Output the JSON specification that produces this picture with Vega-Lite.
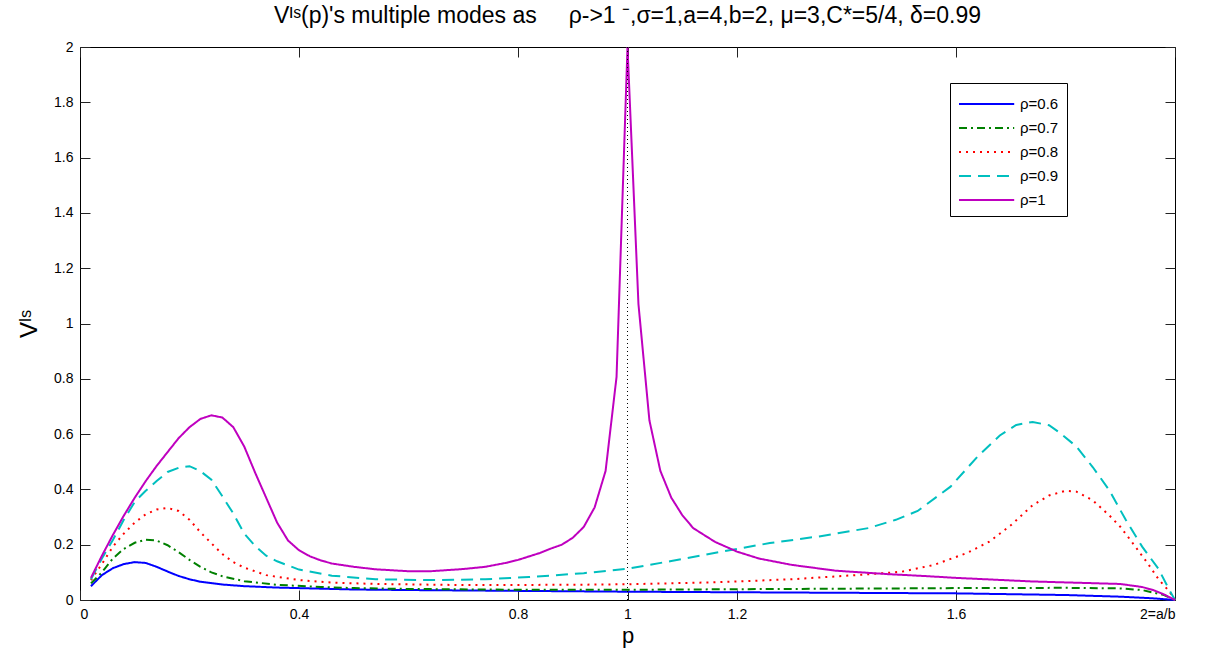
{
  "$schema": "https://vega.github.io/schema/vega-lite/v6.json",
  "width": 1095,
  "height": 553,
  "autosize": {"type": "none"},
  "padding": {"left": 80, "top": 47, "right": 42, "bottom": 56},
  "background": "white",
  "config": {
    "view": {"stroke": "black", "strokeWidth": 1},
    "font": "Liberation Sans",
    "axis": {"grid": false, "domain": false, "ticks": true, "tickColor": "#222222", "tickWidth": 1, "tickOpacity": 1, "zindex": 1, "labelColor": "black", "titleColor": "black", "labelFont": "Liberation Sans", "titleFont": "Liberation Sans", "titleFontWeight": "normal", "labelFontSize": 14},
    "title": {"font": "Liberation Sans", "fontSize": 23, "fontWeight": "normal", "color": "black", "offset": 12}
  },
  "title": "Vᴵˢ(p)'s multiple modes as\u00a0\u00a0\u00a0\u00a0\u00a0ρ->1 ⁻,σ=1,a=4,b=2, μ=3,C*=5/4, δ=0.99",
  "data": {"values": [
    {"rho": "ρ=0.6", "p": 0.02, "v": 0.05}, {"rho": "ρ=0.6", "p": 0.04, "v": 0.09}, {"rho": "ρ=0.6", "p": 0.06, "v": 0.115}, {"rho": "ρ=0.6", "p": 0.08, "v": 0.13}, {"rho": "ρ=0.6", "p": 0.10, "v": 0.137}, {"rho": "ρ=0.6", "p": 0.12, "v": 0.134}, {"rho": "ρ=0.6", "p": 0.14, "v": 0.12}, {"rho": "ρ=0.6", "p": 0.16, "v": 0.103}, {"rho": "ρ=0.6", "p": 0.18, "v": 0.087}, {"rho": "ρ=0.6", "p": 0.20, "v": 0.075}, {"rho": "ρ=0.6", "p": 0.22, "v": 0.066}, {"rho": "ρ=0.6", "p": 0.26, "v": 0.056}, {"rho": "ρ=0.6", "p": 0.30, "v": 0.05}, {"rho": "ρ=0.6", "p": 0.36, "v": 0.045}, {"rho": "ρ=0.6", "p": 0.44, "v": 0.041}, {"rho": "ρ=0.6", "p": 0.5, "v": 0.038}, {"rho": "ρ=0.6", "p": 0.6, "v": 0.036}, {"rho": "ρ=0.6", "p": 0.8, "v": 0.033}, {"rho": "ρ=0.6", "p": 1.0, "v": 0.03}, {"rho": "ρ=0.6", "p": 1.2, "v": 0.028}, {"rho": "ρ=0.6", "p": 1.4, "v": 0.026}, {"rho": "ρ=0.6", "p": 1.6, "v": 0.024}, {"rho": "ρ=0.6", "p": 1.8, "v": 0.018}, {"rho": "ρ=0.6", "p": 1.9, "v": 0.012}, {"rho": "ρ=0.6", "p": 1.96, "v": 0.006}, {"rho": "ρ=0.6", "p": 2.0, "v": 0},
    {"rho": "ρ=0.7", "p": 0.02, "v": 0.06}, {"rho": "ρ=0.7", "p": 0.04, "v": 0.1}, {"rho": "ρ=0.7", "p": 0.06, "v": 0.15}, {"rho": "ρ=0.7", "p": 0.08, "v": 0.185}, {"rho": "ρ=0.7", "p": 0.10, "v": 0.207}, {"rho": "ρ=0.7", "p": 0.12, "v": 0.218}, {"rho": "ρ=0.7", "p": 0.14, "v": 0.215}, {"rho": "ρ=0.7", "p": 0.16, "v": 0.198}, {"rho": "ρ=0.7", "p": 0.18, "v": 0.173}, {"rho": "ρ=0.7", "p": 0.20, "v": 0.145}, {"rho": "ρ=0.7", "p": 0.22, "v": 0.12}, {"rho": "ρ=0.7", "p": 0.24, "v": 0.1}, {"rho": "ρ=0.7", "p": 0.26, "v": 0.086}, {"rho": "ρ=0.7", "p": 0.30, "v": 0.068}, {"rho": "ρ=0.7", "p": 0.36, "v": 0.055}, {"rho": "ρ=0.7", "p": 0.44, "v": 0.047}, {"rho": "ρ=0.7", "p": 0.5, "v": 0.043}, {"rho": "ρ=0.7", "p": 0.6, "v": 0.04}, {"rho": "ρ=0.7", "p": 0.8, "v": 0.037}, {"rho": "ρ=0.7", "p": 1.0, "v": 0.037}, {"rho": "ρ=0.7", "p": 1.2, "v": 0.039}, {"rho": "ρ=0.7", "p": 1.4, "v": 0.041}, {"rho": "ρ=0.7", "p": 1.6, "v": 0.043}, {"rho": "ρ=0.7", "p": 1.8, "v": 0.044}, {"rho": "ρ=0.7", "p": 1.9, "v": 0.042}, {"rho": "ρ=0.7", "p": 1.94, "v": 0.036}, {"rho": "ρ=0.7", "p": 1.98, "v": 0.018}, {"rho": "ρ=0.7", "p": 2.0, "v": 0},
    {"rho": "ρ=0.8", "p": 0.02, "v": 0.072}, {"rho": "ρ=0.8", "p": 0.04, "v": 0.13}, {"rho": "ρ=0.8", "p": 0.06, "v": 0.193}, {"rho": "ρ=0.8", "p": 0.08, "v": 0.24}, {"rho": "ρ=0.8", "p": 0.10, "v": 0.28}, {"rho": "ρ=0.8", "p": 0.12, "v": 0.31}, {"rho": "ρ=0.8", "p": 0.14, "v": 0.327}, {"rho": "ρ=0.8", "p": 0.16, "v": 0.333}, {"rho": "ρ=0.8", "p": 0.18, "v": 0.322}, {"rho": "ρ=0.8", "p": 0.20, "v": 0.29}, {"rho": "ρ=0.8", "p": 0.22, "v": 0.245}, {"rho": "ρ=0.8", "p": 0.24, "v": 0.205}, {"rho": "ρ=0.8", "p": 0.26, "v": 0.166}, {"rho": "ρ=0.8", "p": 0.28, "v": 0.137}, {"rho": "ρ=0.8", "p": 0.30, "v": 0.117}, {"rho": "ρ=0.8", "p": 0.34, "v": 0.09}, {"rho": "ρ=0.8", "p": 0.40, "v": 0.072}, {"rho": "ρ=0.8", "p": 0.46, "v": 0.063}, {"rho": "ρ=0.8", "p": 0.54, "v": 0.058}, {"rho": "ρ=0.8", "p": 0.7, "v": 0.054}, {"rho": "ρ=0.8", "p": 0.9, "v": 0.055}, {"rho": "ρ=0.8", "p": 1.0, "v": 0.057}, {"rho": "ρ=0.8", "p": 1.16, "v": 0.064}, {"rho": "ρ=0.8", "p": 1.3, "v": 0.075}, {"rho": "ρ=0.8", "p": 1.44, "v": 0.093}, {"rho": "ρ=0.8", "p": 1.5, "v": 0.102}, {"rho": "ρ=0.8", "p": 1.56, "v": 0.127}, {"rho": "ρ=0.8", "p": 1.62, "v": 0.17}, {"rho": "ρ=0.8", "p": 1.66, "v": 0.21}, {"rho": "ρ=0.8", "p": 1.70, "v": 0.27}, {"rho": "ρ=0.8", "p": 1.74, "v": 0.343}, {"rho": "ρ=0.8", "p": 1.77, "v": 0.378}, {"rho": "ρ=0.8", "p": 1.80, "v": 0.395}, {"rho": "ρ=0.8", "p": 1.82, "v": 0.392}, {"rho": "ρ=0.8", "p": 1.85, "v": 0.36}, {"rho": "ρ=0.8", "p": 1.88, "v": 0.306}, {"rho": "ρ=0.8", "p": 1.90, "v": 0.265}, {"rho": "ρ=0.8", "p": 1.92, "v": 0.213}, {"rho": "ρ=0.8", "p": 1.95, "v": 0.133}, {"rho": "ρ=0.8", "p": 1.97, "v": 0.075}, {"rho": "ρ=0.8", "p": 1.99, "v": 0.03}, {"rho": "ρ=0.8", "p": 2.0, "v": 0},
    {"rho": "ρ=0.9", "p": 0.02, "v": 0.075}, {"rho": "ρ=0.9", "p": 0.04, "v": 0.15}, {"rho": "ρ=0.9", "p": 0.06, "v": 0.217}, {"rho": "ρ=0.9", "p": 0.08, "v": 0.29}, {"rho": "ρ=0.9", "p": 0.10, "v": 0.355}, {"rho": "ρ=0.9", "p": 0.12, "v": 0.395}, {"rho": "ρ=0.9", "p": 0.14, "v": 0.43}, {"rho": "ρ=0.9", "p": 0.16, "v": 0.463}, {"rho": "ρ=0.9", "p": 0.18, "v": 0.478}, {"rho": "ρ=0.9", "p": 0.20, "v": 0.484}, {"rho": "ρ=0.9", "p": 0.22, "v": 0.466}, {"rho": "ρ=0.9", "p": 0.24, "v": 0.435}, {"rho": "ρ=0.9", "p": 0.26, "v": 0.375}, {"rho": "ρ=0.9", "p": 0.28, "v": 0.313}, {"rho": "ρ=0.9", "p": 0.30, "v": 0.24}, {"rho": "ρ=0.9", "p": 0.32, "v": 0.195}, {"rho": "ρ=0.9", "p": 0.34, "v": 0.16}, {"rho": "ρ=0.9", "p": 0.36, "v": 0.14}, {"rho": "ρ=0.9", "p": 0.40, "v": 0.11}, {"rho": "ρ=0.9", "p": 0.46, "v": 0.088}, {"rho": "ρ=0.9", "p": 0.54, "v": 0.075}, {"rho": "ρ=0.9", "p": 0.64, "v": 0.072}, {"rho": "ρ=0.9", "p": 0.74, "v": 0.075}, {"rho": "ρ=0.9", "p": 0.82, "v": 0.083}, {"rho": "ρ=0.9", "p": 0.92, "v": 0.097}, {"rho": "ρ=0.9", "p": 1.0, "v": 0.113}, {"rho": "ρ=0.9", "p": 1.08, "v": 0.141}, {"rho": "ρ=0.9", "p": 1.17, "v": 0.174}, {"rho": "ρ=0.9", "p": 1.26, "v": 0.206}, {"rho": "ρ=0.9", "p": 1.35, "v": 0.23}, {"rho": "ρ=0.9", "p": 1.44, "v": 0.26}, {"rho": "ρ=0.9", "p": 1.49, "v": 0.29}, {"rho": "ρ=0.9", "p": 1.53, "v": 0.322}, {"rho": "ρ=0.9", "p": 1.59, "v": 0.41}, {"rho": "ρ=0.9", "p": 1.64, "v": 0.52}, {"rho": "ρ=0.9", "p": 1.68, "v": 0.595}, {"rho": "ρ=0.9", "p": 1.71, "v": 0.633}, {"rho": "ρ=0.9", "p": 1.74, "v": 0.644}, {"rho": "ρ=0.9", "p": 1.77, "v": 0.632}, {"rho": "ρ=0.9", "p": 1.79, "v": 0.604}, {"rho": "ρ=0.9", "p": 1.82, "v": 0.555}, {"rho": "ρ=0.9", "p": 1.85, "v": 0.48}, {"rho": "ρ=0.9", "p": 1.88, "v": 0.397}, {"rho": "ρ=0.9", "p": 1.91, "v": 0.29}, {"rho": "ρ=0.9", "p": 1.94, "v": 0.193}, {"rho": "ρ=0.9", "p": 1.97, "v": 0.112}, {"rho": "ρ=0.9", "p": 1.99, "v": 0.035}, {"rho": "ρ=0.9", "p": 2.0, "v": 0},
    {"rho": "ρ=1", "p": 0.02, "v": 0.08}, {"rho": "ρ=1", "p": 0.04, "v": 0.16}, {"rho": "ρ=1", "p": 0.06, "v": 0.235}, {"rho": "ρ=1", "p": 0.08, "v": 0.305}, {"rho": "ρ=1", "p": 0.10, "v": 0.37}, {"rho": "ρ=1", "p": 0.12, "v": 0.43}, {"rho": "ρ=1", "p": 0.14, "v": 0.485}, {"rho": "ρ=1", "p": 0.16, "v": 0.535}, {"rho": "ρ=1", "p": 0.18, "v": 0.585}, {"rho": "ρ=1", "p": 0.20, "v": 0.625}, {"rho": "ρ=1", "p": 0.22, "v": 0.655}, {"rho": "ρ=1", "p": 0.24, "v": 0.668}, {"rho": "ρ=1", "p": 0.26, "v": 0.66}, {"rho": "ρ=1", "p": 0.28, "v": 0.625}, {"rho": "ρ=1", "p": 0.30, "v": 0.555}, {"rho": "ρ=1", "p": 0.32, "v": 0.46}, {"rho": "ρ=1", "p": 0.34, "v": 0.37}, {"rho": "ρ=1", "p": 0.36, "v": 0.28}, {"rho": "ρ=1", "p": 0.38, "v": 0.215}, {"rho": "ρ=1", "p": 0.40, "v": 0.18}, {"rho": "ρ=1", "p": 0.42, "v": 0.158}, {"rho": "ρ=1", "p": 0.44, "v": 0.143}, {"rho": "ρ=1", "p": 0.46, "v": 0.132}, {"rho": "ρ=1", "p": 0.50, "v": 0.12}, {"rho": "ρ=1", "p": 0.54, "v": 0.111}, {"rho": "ρ=1", "p": 0.60, "v": 0.104}, {"rho": "ρ=1", "p": 0.64, "v": 0.104}, {"rho": "ρ=1", "p": 0.70, "v": 0.112}, {"rho": "ρ=1", "p": 0.74, "v": 0.12}, {"rho": "ρ=1", "p": 0.78, "v": 0.135}, {"rho": "ρ=1", "p": 0.80, "v": 0.145}, {"rho": "ρ=1", "p": 0.84, "v": 0.17}, {"rho": "ρ=1", "p": 0.86, "v": 0.186}, {"rho": "ρ=1", "p": 0.88, "v": 0.2}, {"rho": "ρ=1", "p": 0.90, "v": 0.225}, {"rho": "ρ=1", "p": 0.92, "v": 0.264}, {"rho": "ρ=1", "p": 0.94, "v": 0.335}, {"rho": "ρ=1", "p": 0.96, "v": 0.467}, {"rho": "ρ=1", "p": 0.98, "v": 0.807}, {"rho": "ρ=1", "p": 1.0, "v": 2.0}, {"rho": "ρ=1", "p": 1.02, "v": 1.07}, {"rho": "ρ=1", "p": 1.04, "v": 0.65}, {"rho": "ρ=1", "p": 1.06, "v": 0.467}, {"rho": "ρ=1", "p": 1.08, "v": 0.37}, {"rho": "ρ=1", "p": 1.10, "v": 0.307}, {"rho": "ρ=1", "p": 1.12, "v": 0.26}, {"rho": "ρ=1", "p": 1.16, "v": 0.21}, {"rho": "ρ=1", "p": 1.20, "v": 0.175}, {"rho": "ρ=1", "p": 1.24, "v": 0.15}, {"rho": "ρ=1", "p": 1.30, "v": 0.127}, {"rho": "ρ=1", "p": 1.38, "v": 0.106}, {"rho": "ρ=1", "p": 1.48, "v": 0.093}, {"rho": "ρ=1", "p": 1.54, "v": 0.087}, {"rho": "ρ=1", "p": 1.60, "v": 0.08}, {"rho": "ρ=1", "p": 1.74, "v": 0.067}, {"rho": "ρ=1", "p": 1.90, "v": 0.058}, {"rho": "ρ=1", "p": 1.94, "v": 0.047}, {"rho": "ρ=1", "p": 1.96, "v": 0.036}, {"rho": "ρ=1", "p": 1.98, "v": 0.02}, {"rho": "ρ=1", "p": 2.0, "v": 0}
  ]},
  "layer": [
    {
      "mark": {"type": "line", "strokeWidth": 2},
      "encoding": {
        "x": {"field": "p", "type": "quantitative", "scale": {"domain": [0, 2], "nice": false, "zero": false},
          "axis": {"orient": "bottom", "title": "p", "titleFontSize": 22, "titlePadding": 4, "values": [0, 0.4, 0.8, 1, 1.2, 1.6, 2], "labelExpr": "datum.value == 2 ? '2=a/b' : '' + datum.value", "tickSize": 10, "offset": -10, "labelPadding": 7, "labelFontSize": 14}},
        "y": {"field": "v", "type": "quantitative", "scale": {"domain": [0, 2], "nice": false},
          "axis": {"orient": "left", "title": "Vᴵˢ", "titleFontSize": 24, "titlePadding": 12, "values": [0, 0.2, 0.4, 0.6, 0.8, 1, 1.2, 1.4, 1.6, 1.8, 2], "labelExpr": "'' + datum.value", "tickSize": 10, "offset": -10, "labelPadding": 7}},
        "color": {"field": "rho", "type": "nominal",
          "scale": {"domain": ["ρ=0.6", "ρ=0.7", "ρ=0.8", "ρ=0.9", "ρ=1"], "range": ["#0000ff", "#008000", "#ff0000", "#00bfbf", "#bf00bf"]},
          "legend": {"title": null, "orient": "none", "legendX": 870, "legendY": 36, "padding": 8, "strokeColor": "black", "fillColor": "white", "labelFontSize": 15, "labelFont": "Liberation Sans", "symbolType": "M-1,0H3.6", "symbolStrokeWidth": 2, "symbolSize": 576, "labelOffset": 36, "rowPadding": 3}},
        "strokeDash": {"field": "rho", "type": "nominal",
          "scale": {"domain": ["ρ=0.6", "ρ=0.7", "ρ=0.8", "ρ=0.9", "ρ=1"], "range": [[1, 0], [8, 4, 2, 4], [2, 5], [12, 7], [1, 0]]}}
      }
    },
    {
      "data": {"values": [{"p": 1, "y0": 0, "y1": 2}]},
      "mark": {"type": "rule", "color": "black", "strokeWidth": 1, "strokeDash": [1, 3]},
      "encoding": {
        "x": {"field": "p", "type": "quantitative", "axis": {"orient": "top", "title": null, "labels": false, "values": [0, 0.4, 0.8, 1, 1.2, 1.6, 2], "tickSize": 10, "offset": -10}},
        "y": {"field": "y0", "type": "quantitative", "axis": {"orient": "right", "title": null, "labels": false, "values": [0, 0.2, 0.4, 0.6, 0.8, 1, 1.2, 1.4, 1.6, 1.8, 2], "tickSize": 10, "offset": -10}},
        "y2": {"field": "y1"}
      }
    }
  ],
  "resolve": {"axis": {"x": "independent", "y": "independent"}}
}
